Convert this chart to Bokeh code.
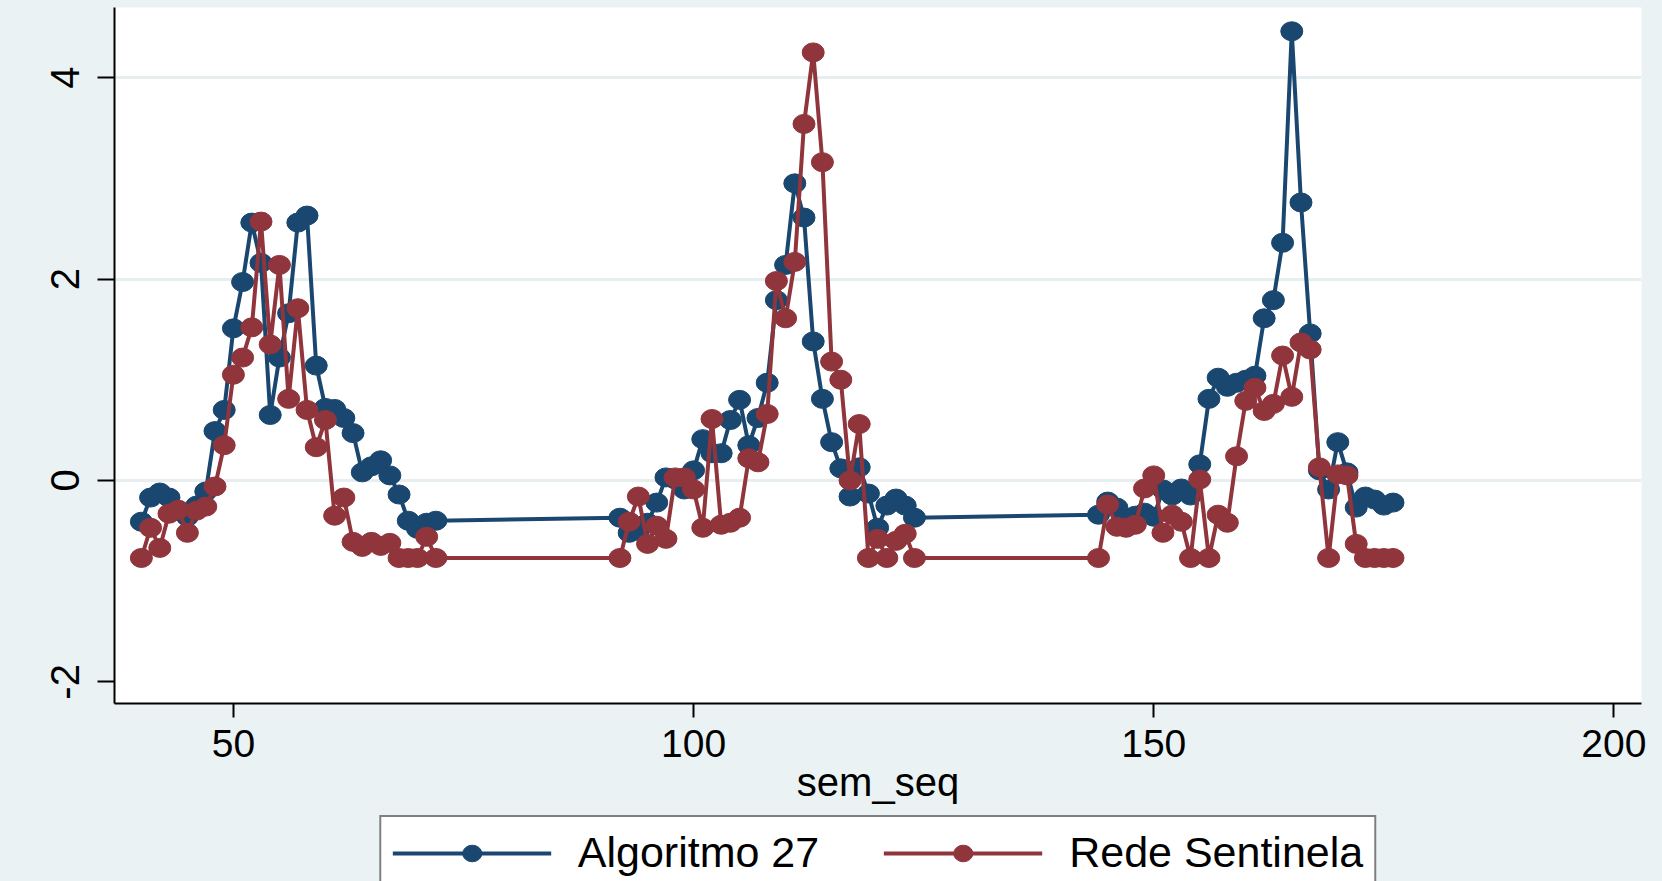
from bokeh.plotting import figure
from bokeh.layouts import column
from bokeh.models import Range1d, FixedTicker, Legend, LegendItem, ColumnDataSource
from bokeh.embed import file_html
from bokeh.resources import INLINE

# ---- data ----
sem_seq = [40, 41, 42, 43, 44, 45, 46, 47, 48, 49, 50, 51, 52, 53, 54, 55, 56,
           57, 58, 59, 60, 61, 62, 63, 64, 65, 66, 67, 68, 69, 70, 71, 72,
           92, 93, 94, 95, 96, 97, 98, 99, 100, 101, 102, 103, 104, 105, 106, 107,
           108, 109, 110, 111, 112, 113, 114, 115, 116, 117, 118, 119, 120, 121, 122, 123, 124,
           144, 145, 146, 147, 148, 149, 150, 151, 152, 153, 154, 155, 156, 157, 158, 159,
           160, 161, 162, 163, 164, 165, 166, 167, 168, 169, 170, 171, 172, 173, 174, 175, 176]

algoritmo_27 = [-0.41, -0.17, -0.12, -0.17, -0.30, -0.36, -0.25, -0.11, 0.49, 0.70, 1.51,
                1.97, 2.56, 2.16, 0.65, 1.22, 1.66, 2.56, 2.63, 1.14, 0.72, 0.71, 0.62,
                0.47, 0.08, 0.14, 0.20, 0.05, -0.14, -0.40, -0.48, -0.42, -0.40,
                -0.37, -0.52, -0.50, -0.42, -0.22, 0.03, 0.01, -0.09, 0.10, 0.41, 0.27,
                0.27, 0.60, 0.80, 0.35, 0.62, 0.97, 1.79, 2.14, 2.95, 2.61, 1.38, 0.81,
                0.38, 0.12, -0.16, 0.13, -0.13, -0.47, -0.25, -0.18, -0.25, -0.37,
                -0.34, -0.21, -0.27, -0.37, -0.35, -0.32, -0.36, -0.09, -0.15, -0.08,
                -0.15, 0.16, 0.81, 1.02, 0.93, 0.97, 1.00, 1.04, 1.61, 1.79, 2.36, 4.46,
                2.76, 1.46, 0.10, -0.09, 0.38, 0.08, -0.27, -0.16, -0.19, -0.25, -0.22]

rede_sentinela = [-0.77, -0.47, -0.67, -0.33, -0.29, -0.52, -0.30, -0.26, -0.06, 0.35, 1.05,
                  1.22, 1.52, 2.57, 1.35, 2.14, 0.81, 1.71, 0.70, 0.33, 0.60, -0.35, -0.17,
                  -0.61, -0.66, -0.61, -0.65, -0.62, -0.77, -0.77, -0.77, -0.56, -0.77,
                  -0.77, -0.41, -0.16, -0.63, -0.45, -0.58, 0.03, 0.03, -0.09, -0.47, 0.61,
                  -0.44, -0.42, -0.37, 0.22, 0.18, 0.66, 1.98, 1.61, 2.17, 3.54, 4.25, 3.16,
                  1.18, 1.00, 0.00, 0.56, -0.77, -0.58, -0.77, -0.60, -0.53, -0.77,
                  -0.77, -0.24, -0.46, -0.47, -0.44, -0.08, 0.05, -0.52, -0.34, -0.41,
                  -0.77, 0.01, -0.77, -0.34, -0.42, 0.24, 0.79, 0.92, 0.69, 0.76, 1.24, 0.83,
                  1.37, 1.30, 0.13, -0.77, 0.06, 0.05, -0.63, -0.77, -0.77, -0.77, -0.77]

series_names = ["Algoritmo 27", "Rede Sentinela"]
x_ticks = [50, 100, 150, 200]
y_ticks = [-2, 0, 2, 4]
y_tick_labels = {-2: "-2", 0: "0", 2: "2", 4: "4"}
grid_ticks = [0, 2, 4]
x_title = "sem_seq"

# ---- styling ----
BG = "#EAF2F3"
GRID = "#E6EEF0"
BLUE = "#1A476F"
RED = "#90353B"
FONT = "Liberation Sans"

src = ColumnDataSource(dict(x=sem_seq, a=algoritmo_27, r=rede_sentinela))

p = figure(width=1662, height=812, output_backend="svg", toolbar_location=None,
           x_range=Range1d(37.08, 203.0), y_range=Range1d(-2.215, 4.696),
           min_border_left=114, min_border_right=21, min_border_top=7,
           min_border_bottom=109, styles={"background-color": BG})
p.border_fill_color = BG
p.background_fill_color = "white"
p.outline_line_color = None

# grid
p.xgrid.visible = False
p.ygrid.ticker = FixedTicker(ticks=grid_ticks)
p.ygrid.grid_line_color = GRID
p.ygrid.grid_line_width = 3

# axes
xa = p.xaxis[0]
xa.ticker = FixedTicker(ticks=x_ticks)
xa.axis_label = x_title
xa.axis_label_text_font = FONT
xa.axis_label_text_font_style = "normal"
xa.axis_label_text_font_size = "40px"
xa.axis_label_text_color = "black"
xa.axis_label_standoff = 0
xa.major_label_text_font = FONT
xa.major_label_text_font_size = "39px"
xa.major_label_text_color = "black"
xa.major_label_standoff = 12
xa.major_tick_out = 14
xa.major_tick_in = 0
xa.minor_tick_line_color = None
xa.axis_line_width = 2
xa.major_tick_line_width = 2
xa.axis_line_color = "black"

ya = p.yaxis[0]
ya.ticker = FixedTicker(ticks=y_ticks)
ya.major_label_overrides = y_tick_labels
ya.major_label_orientation = "vertical"
ya.major_label_text_font = FONT
ya.major_label_text_font_size = "40px"
ya.major_label_text_color = "black"
ya.major_label_standoff = 18
ya.major_tick_out = 17
ya.major_tick_in = 0
ya.minor_tick_line_color = None
ya.axis_line_width = 2
ya.major_tick_line_width = 2
ya.axis_line_color = "black"

# series
p.line("x", "a", source=src, line_color=BLUE, line_width=4)
p.ellipse("x", "a", source=src, width=22, height=19, width_units="screen",
          height_units="screen", fill_color=BLUE, line_color=BLUE)
p.line("x", "r", source=src, line_color=RED, line_width=4)
p.ellipse("x", "r", source=src, width=22, height=19, width_units="screen",
          height_units="screen", fill_color=RED, line_color=RED)

# ---- legend strip (same series, drawn out of view, only their legend shows) ----
p2 = figure(width=1662, height=69, output_backend="svg", toolbar_location=None,
            x_range=p.x_range, y_range=Range1d(100, 101),
            x_axis_type=None, y_axis_type=None,
            min_border_left=114, min_border_right=21, min_border_top=0,
            min_border_bottom=0, styles={"background-color": BG})
p2.grid.visible = False
p2.border_fill_color = BG
p2.background_fill_color = BG
p2.outline_line_color = None

k1 = p2.line("x", "a", source=src, line_color=BLUE, line_width=4)
e1 = p2.ellipse("x", "a", source=src, width=22, height=19, width_units="screen",
                height_units="screen", fill_color=BLUE, line_color=BLUE)
k2 = p2.line("x", "r", source=src, line_color=RED, line_width=4)
e2 = p2.ellipse("x", "r", source=src, width=22, height=19, width_units="screen",
                height_units="screen", fill_color=RED, line_color=RED)

legend = Legend(items=[LegendItem(label=series_names[0], renderers=[k1, e1]),
                       LegendItem(label=series_names[1], renderers=[k2, e2])],
                orientation="horizontal", location="top",
                label_text_font=FONT, label_text_font_size="43px",
                label_text_color="black",
                glyph_width=159, glyph_height=24, label_standoff=27, spacing=64,
                padding=11, margin=3, border_line_color="black", border_line_width=2,
                background_fill_color="white", background_fill_alpha=1.0)
p2.add_layout(legend)

layout = column(p, p2, spacing=0, styles={"background-color": BG})
open("out.html", "w").write(file_html(layout, INLINE))
